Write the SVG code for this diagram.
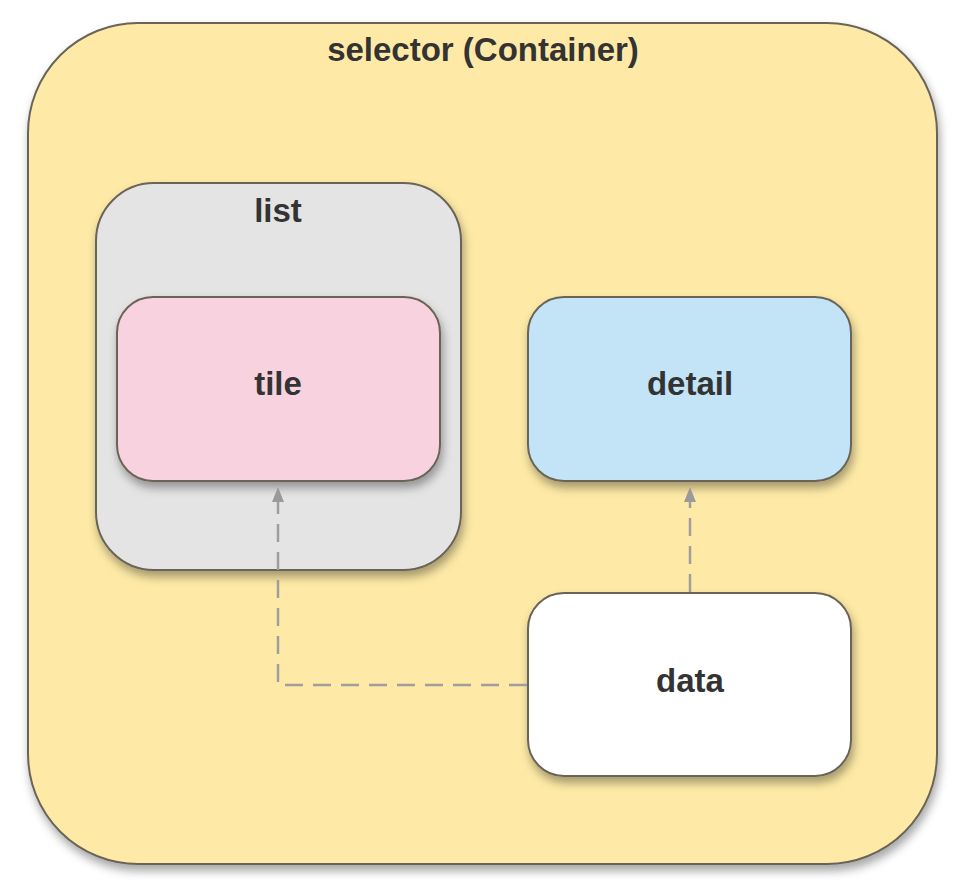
<svg xmlns="http://www.w3.org/2000/svg" width="954" height="882" viewBox="0 0 954 882">
  <defs>
    <filter id="sh" x="-10%" y="-10%" width="125%" height="130%">
      <feDropShadow dx="2" dy="6" stdDeviation="5" flood-color="#000" flood-opacity="0.35"/>
    </filter>
    <marker id="arr" viewBox="0 0 12 14" refX="6" refY="3" markerWidth="12" markerHeight="14" markerUnits="userSpaceOnUse" orient="auto">
      <path d="M0,14 L6,0 L12,14 Z" fill="#9a9a9a" transform="rotate(90 6 7)"/>
    </marker>
  </defs>
  <style>
    .box { stroke: #6a6458; stroke-width: 2; filter: url(#sh); }
    .lbl { font-family: "Liberation Sans", Arial, sans-serif; font-weight: bold; font-size: 33px; fill: #333; text-anchor: middle; }
    .conn { fill: none; stroke: #9e9e9e; stroke-width: 2.5; stroke-dasharray: 18 10; }
    .ah { fill: #9a9a9a; }
  </style>
  <rect width="954" height="882" fill="#ffffff"/>
  <g id="selector">
    <rect class="box" x="28" y="23" width="909" height="841" rx="110" ry="110" fill="#feeaa6"/>
    <text class="lbl" x="483" y="61">selector (Container)</text>
  </g>
  <g id="list">
    <rect class="box" x="96" y="183" width="365" height="387" rx="58" ry="58" fill="#e4e4e4"/>
    <text class="lbl" x="278" y="222">list</text>
  </g>
  <g id="tile">
    <rect class="box" x="117" y="297" width="323" height="184" rx="36" ry="36" fill="#f8d2df"/>
    <text class="lbl" x="278" y="395">tile</text>
  </g>
  <g id="detail">
    <rect class="box" x="528" y="297" width="323" height="184" rx="36" ry="36" fill="#c3e4f6"/>
    <text class="lbl" x="690" y="395">detail</text>
  </g>
  <g id="data">
    <rect class="box" x="528" y="593" width="323" height="183" rx="36" ry="36" fill="#ffffff"/>
    <text class="lbl" x="690" y="692">data</text>
  </g>
  <g id="connectors">
    <path class="conn" d="M690,592 L690,500"/>
    <path class="ah" d="M684,502 L690,487 L696,502 Z"/>
    <path class="conn" d="M527,685 L278,685 L278,500"/>
    <path class="ah" d="M272,502 L278,487 L284,502 Z"/>
  </g>
</svg>
